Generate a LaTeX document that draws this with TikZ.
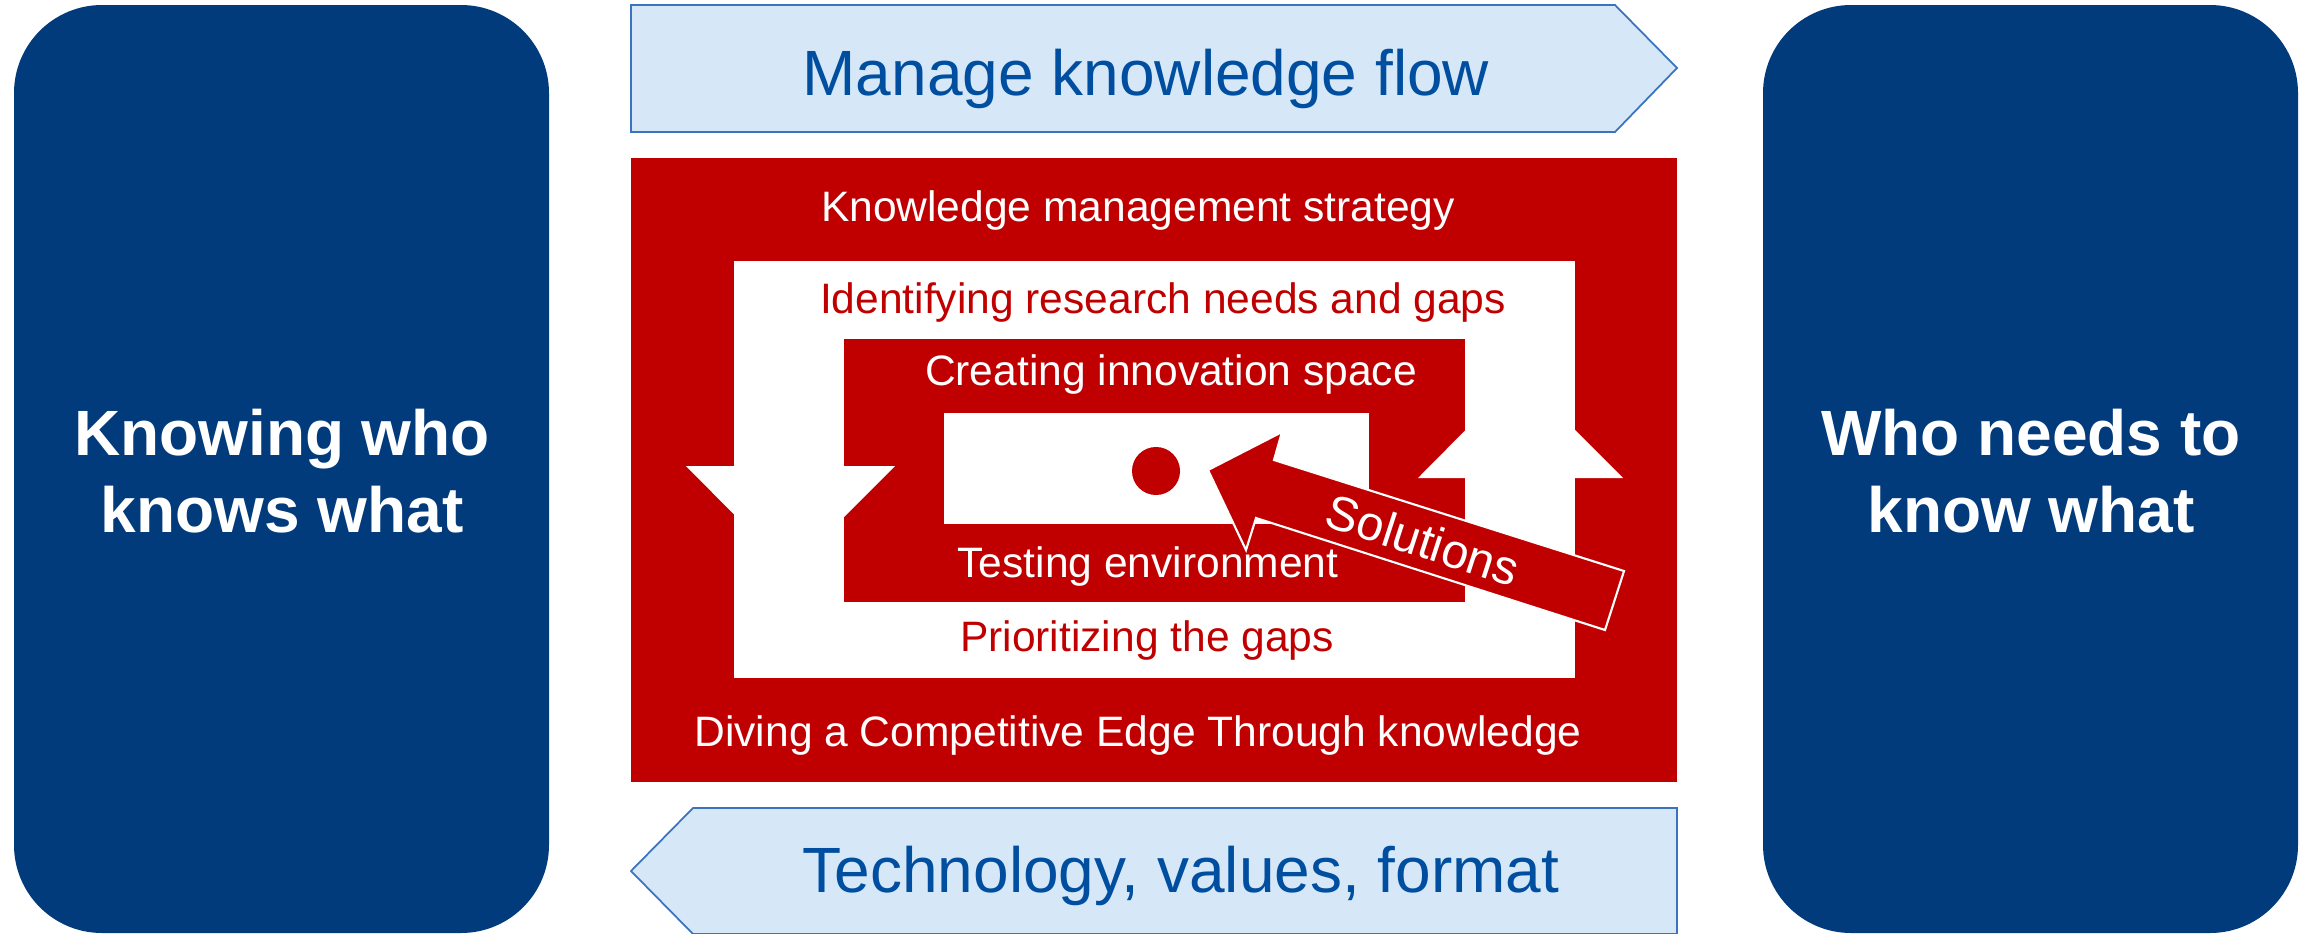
\documentclass[tikz,border=0pt]{standalone}
\usepackage{fontspec}
\setmainfont{Liberation Sans}
\definecolor{navy}{RGB}{1,59,123}
\definecolor{flowblue}{RGB}{0,78,160}
\definecolor{flowfill}{RGB}{214,232,248}
\definecolor{flowline}{RGB}{60,115,190}
\definecolor{kmred}{RGB}{192,0,0}
\begin{document}
\begin{tikzpicture}[x=0.01cm, y=-0.01cm,
    side box/.style={fill=navy, rounded corners=0.88cm},
    side text/.style={text=white, align=center, font=\bfseries\fontsize{18.2}{21.9}\selectfont},
    flow arrow/.style={fill=flowfill, draw=flowline, line width=0.5pt},
    flow text/.style={text=flowblue, anchor=base, font=\fontsize{18.2}{21}\selectfont},
    red text/.style={text=kmred, anchor=base, font=\fontsize{12.1}{14}\selectfont},
    white text/.style={text=white, anchor=base, font=\fontsize{12.1}{14}\selectfont},]
    \useasboundingbox (0,0) rectangle (2312,933);
    %\draw (0,0) rectangle (2312,933);

    \pgfmathsetmacro{\tip}{62}

    % side boxes
    \fill[style=side box] (14,5) rectangle (549,933);
    \fill[style=side box] (1763,5) rectangle (2298,933);
    \node[side text] (knowing) at (282,471) {Knowing who\\knows what};
    \node[side text] (needs) at (2031,471) {Who needs to\\know what};

    % flow arrows
    \coordinate (flowNW) at (631,5);
    \coordinate (flowSW) at (631,132);
    \coordinate (techNE) at (1677,808);
    \coordinate (techSE) at (1677,934);
    \draw[style=flow arrow] (flowNW) -- ++({1046-\tip},0) -- (1677,68) -- ++(-\tip,64) -- (flowSW) -- cycle;
    \draw[style=flow arrow] (techNE) -- (techSE) -- ++({-1046+\tip},0) -- (631,871) -- ++(\tip,-63) -- cycle;
    \node[flow text] (flow) at (1146,95) {Manage knowledge flow};
    \node[flow text] (tech) at (1181,892) {Technology, values, format};

    % nested frames
    \fill[kmred] (631,158) rectangle (1677,782);
    \fill[white] (734,261) rectangle (1575,678);
    \fill[kmred] (844,339) rectangle (1465,602);
    \fill[white] (944,413) rectangle (1369,524);
    \fill[white] (686,466) -- (895,466) -- (790,571) -- cycle;
    \fill[white] (1418,478) -- (1623,478) -- (1520,375) -- cycle;
    \fill[kmred] (1156,471) circle[radius=0.24cm];

    \node[white text] (strategy) at (1138,221) {Knowledge management strategy};
    \node[red text] (gaps) at (1163,313) {Identifying research needs and gaps};
    \node[white text] (space) at (1171,385) {Creating innovation space};
    \node[white text] (testing) at (1148,577) {Testing environment};
    \node[red text] (prior) at (1147,651) {Prioritizing the gaps};
    \node[white text] (edge) at (1138,746) {Diving a Competitive Edge Through knowledge};

    % solutions arrow
    \draw[fill=kmred, draw=white, line width=0.6pt] (1208,470) -- (1282,432) -- (1274,460) -- (1624,571)
        -- (1605,630) -- (1256,518) -- (1246,550) -- cycle;
    \node[text=white, rotate=-18, font=\fontsize{13.8}{16}\selectfont] (sol) at (1423,540) {Solutions};

\end{tikzpicture}
\end{document}
